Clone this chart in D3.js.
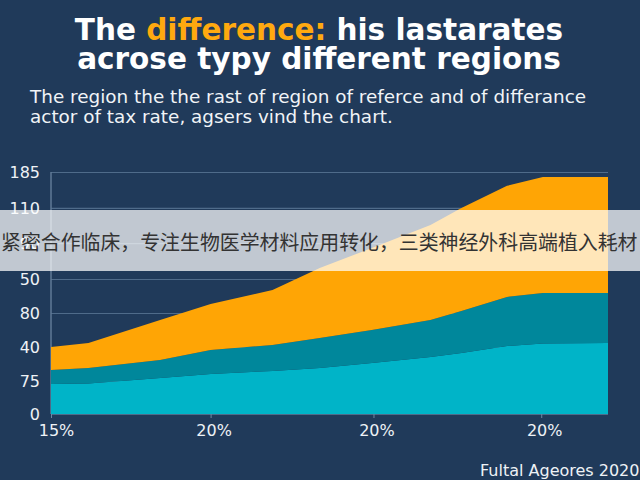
<!DOCTYPE html>
<html>
<head>
<meta charset="utf-8">
<script src="https://cdn.jsdelivr.net/npm/d3@7"></script>
<style>
    html, body { margin: 0; padding: 0; background: #203a5a; overflow: hidden; }
    svg { display: block; font-family: "DejaVu Sans", sans-serif; }
    .axis text { fill: #eef2f6; font-size: 16px; font-family: "DejaVu Sans", sans-serif; }
    .axis path { display: none; }
    .y-axis line { stroke: #4f6b8a; stroke-width: 1.2px; }
    .x-axis line { stroke: #6f88a2; }
</style>
</head>
<body>
<div id="chart"></div>
<script>
// tick steps along the x axis
var xSteps = [0, 0.23, 0.67, 0.98, 1.36, 1.65, 1.97, 2.33, 2.52, 2.8, 3.02, 3.42];

// band thickness of each region
var baseValues = [22.9, 23.3, 27.5, 30.6, 32.9, 35.2, 39, 43.6, 46.6, 52, 53.9, 54.3];
var middleValues = [10.7, 11.8, 13.8, 18.3, 19.9, 22.9, 25.2, 28.3, 32.1, 37.5, 38.6, 38.2];
var topValues = [17.6, 19.1, 30.6, 35.2, 42, 53.5, 62.7, 72.6, 78.7, 84.9, 88.7, 88.7];

var seriesNames = ['base', 'middle', 'top'];
var seriesColors = ['#00b4c8', '#00879b', '#ffa505'];

// the picture's y labels are not in numeric order, so positions and labels are kept apart
var yTickValues = [0, 25.2, 51.2, 77.2, 103.2, 130.7, 157.5, 185];
var yTickLabels = ['0', '75', '40', '80', '50', '90', '110', '185'];
var xTickValues = [0, 0.98, 1.98, 3.01];
var xTickLabels = ['15%', '20%', '20%', '20%'];

var titleFirst = ['The ', 'difference:', ' his lastarates'];
var titleSecond = 'acrose typy different regions';
var subtitleLines = [
    'The region the the rast of region of referce and of differance',
    'actor of tax rate, agsers vind the chart.'
];
var footerText = 'Fultal Ageores 2020';
var bannerText = '紧密合作临床，专注生物医学材料应用转化，三类神经外科高端植入耗材';

var width = 640, height = 480;

var svg = d3.select('#chart').append('svg')
    .attr('width', width)
    .attr('height', height);

svg.append('rect')
    .attr('width', width)
    .attr('height', height)
    .attr('fill', '#203a5a');

var x = d3.scaleLinear().domain([0, 3.42]).range([51, 608]);
var y = d3.scaleLinear().domain([0, 185]).range([414, 172]);

/*
 * Grid lines and y labels.
 */
svg.append('g')
    .attr('class', 'axis y-axis')
    .attr('transform', 'translate(51,0)')
    .call(d3.axisLeft(y)
        .tickValues(yTickValues)
        .tickFormat(function(d, i) { return yTickLabels[i]; })
        .tickSize(-557)
        .tickPadding(11));

svg.append('line')
    .attr('x1', 51).attr('x2', 51)
    .attr('y1', y(185)).attr('y2', y(0))
    .attr('stroke', '#5f7a97')
    .attr('stroke-width', 1.5);

/*
 * Stacked regions.
 */
var rows = xSteps.map(function(step, i) {
    return { step: step, base: baseValues[i], middle: middleValues[i], top: topValues[i] };
});

var area = d3.area()
    .x(function(d) { return x(d.data.step); })
    .y0(function(d) { return y(d[0]); })
    .y1(function(d) { return y(d[1]); });

svg.selectAll('.region')
    .data(d3.stack().keys(seriesNames)(rows))
    .enter().append('path')
    .attr('class', 'region')
    .attr('fill', function(d, i) { return seriesColors[i]; })
    .attr('d', area);

/*
 * X labels.
 */
svg.append('g')
    .attr('class', 'axis x-axis')
    .attr('transform', 'translate(0,414)')
    .call(d3.axisBottom(x)
        .tickValues(xTickValues)
        .tickFormat(function(d, i) { return xTickLabels[i]; })
        .tickSize(4)
        .tickPadding(7))
    .selectAll('text')
    .attr('dx', function(d, i) { return i === 0 ? 5 : 3; });

/*
 * Title and subtitle.
 */
var title = svg.append('text')
    .attr('x', 319)
    .attr('y', 40)
    .attr('text-anchor', 'middle')
    .attr('fill', '#ffffff')
    .attr('font-size', 29.5)
    .attr('font-weight', 700);

title.selectAll('tspan')
    .data(titleFirst)
    .enter().append('tspan')
    .attr('fill', function(d, i) { return i === 1 ? '#ffa90f' : '#ffffff'; })
    .attr('xml:space', 'preserve')
    .text(function(d) { return d; });

svg.append('text')
    .attr('x', 319)
    .attr('y', 69)
    .attr('text-anchor', 'middle')
    .attr('fill', '#ffffff')
    .attr('font-size', 29.5)
    .attr('font-weight', 700)
    .text(titleSecond);

svg.selectAll('.subtitle')
    .data(subtitleLines)
    .enter().append('text')
    .attr('class', 'subtitle')
    .attr('x', 30)
    .attr('y', function(d, i) { return 103 + i * 19.5; })
    .attr('fill', '#f1f4f7')
    .attr('font-size', 18.4)
    .text(function(d) { return d; });

svg.append('text')
    .attr('x', 480)
    .attr('y', 476)
    .attr('fill', '#eef2f6')
    .attr('font-size', 16)
    .text(footerText);

/*
 * Banner laid over the chart.
 */
svg.append('rect')
    .attr('x', 0)
    .attr('y', 210)
    .attr('width', width)
    .attr('height', 61)
    .attr('fill', '#ffffff')
    .attr('fill-opacity', 0.72);

svg.append('text')
    .attr('x', 1)
    .attr('y', 250)
    .attr('fill', '#333333')
    .attr('font-family', '"Noto Sans CJK SC"')
    .attr('font-size', 19.9)
    .text(bannerText);
</script>
</body>
</html>
